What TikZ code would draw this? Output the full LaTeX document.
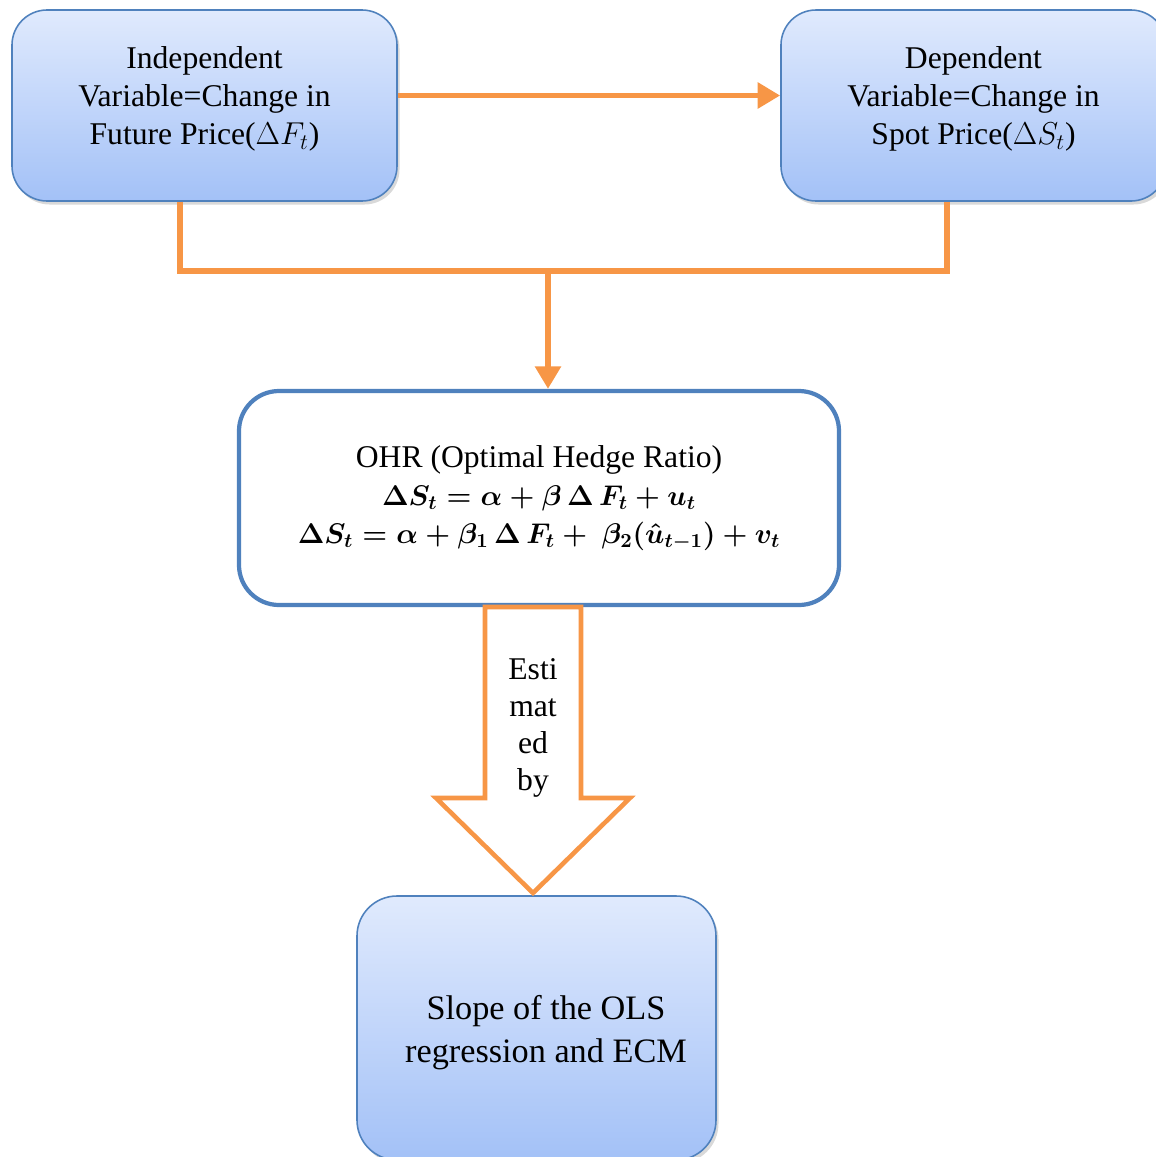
\documentclass[tikz,border=0pt]{standalone}
\usepackage{fix-cm}
\usepackage{amsmath}
\usepackage{fontspec}
\setmainfont{Liberation Serif}
\usetikzlibrary{arrows.meta,shadows,calc}
\definecolor{bord}{RGB}{79,129,189}
\definecolor{topc}{RGB}{224,234,253}
\definecolor{botc}{RGB}{163,193,247}
\definecolor{orng}{RGB}{247,150,70}
\newcommand{\lowstrut}{\rule[-11.3pt]{0pt}{0pt}}

\begin{document}
\begin{tikzpicture}[x=0.2mm,y=-0.2mm,
    box/.style={rounded corners=7mm,draw=bord,line width=0.9pt,
                top color=topc,bottom color=botc,
                drop shadow={opacity=0.3,shadow xshift=0.5mm,shadow yshift=-0.7mm},
                minimum width=77mm,minimum height=38.2mm,
                font=\fontsize{18}{21.5}\selectfont,align=center},
    ohrbox/.style={rounded corners=8mm,draw=bord,line width=2.4pt,fill=white,
                minimum width=120mm,minimum height=42.8mm,
                font=\fontsize{18}{21.5}\selectfont,align=center},
    link/.style={orng,line width=3.4pt},
    arr/.style={link,-{Triangle[length=4.5mm,width=5mm]}},
    blockarr/.style={orng,line width=2.6pt,fill=white,line join=miter}]
    \useasboundingbox (0,0) rectangle (1156,1157);
    \node[box] (ind) at (204.5,105.5)
      {Independent\\Variable=Change in\\Future Price($\Delta F_t$)\lowstrut};
    \node[box] (dep) at (973.5,105.5)
      {Dependent\\Variable=Change in\\Spot Price($\Delta S_t$)\lowstrut};
    \node[ohrbox] (ohr) at (539,498)
      {OHR (Optimal Hedge Ratio)\\
       \fontsize{16.2}{20.5}\selectfont
       $\boldsymbol{\Delta S_t = \alpha + \beta\,\Delta\,F_t + u_t}$\\
       \fontsize{16.2}{20.5}\selectfont
       $\boldsymbol{\Delta S_t = \alpha + \beta_1\,\Delta\,F_t +\ \beta_2(\hat{u}_{t-1}) + v_t}$};
    \node[box,minimum width=71.8mm,minimum height=52.8mm,rounded corners=8mm,
          font=\fontsize{19.5}{24.5}\selectfont]
      (slope) at (536.5,1028)
      {\rule{0pt}{19pt}\hspace*{3.8mm}Slope of the OLS\\\hspace*{3.8mm}regression and ECM};
    \coordinate (jn) at (548,271);
    \coordinate (et) at (533,607);
    \coordinate (tip) at (533,893);
    \draw[arr] ([yshift=2mm]ind.east) -- ([yshift=2mm]dep.west);
    \draw[link] ([xshift=-4.9mm]ind.south) |- (jn) -| ([xshift=-5.3mm]dep.south);
    \draw[arr] (jn) -- (jn |- ohr.north);
    \draw[blockarr] ([xshift=-9.6mm]et) -- ++(0,191) -- ++(-49,0) -- (tip)
      -- ++(97,-95) -- ++(-49,0) -- ([xshift=9.6mm]et) -- cycle;
    \node[font=\fontsize{18}{21}\selectfont,align=center] (estby) at (533,728)
      {Esti\\mat\\ed\\by};
  \end{tikzpicture}
\end{document}
